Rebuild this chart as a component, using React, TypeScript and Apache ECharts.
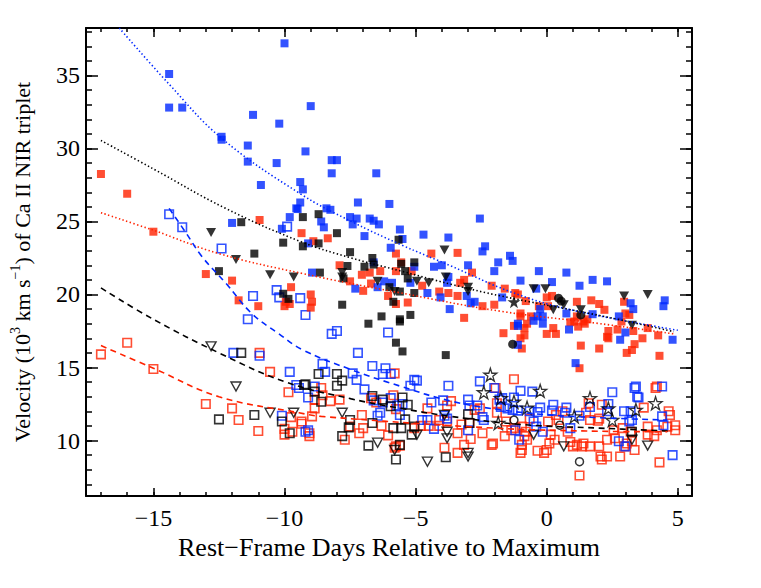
import React, { useEffect, useRef } from 'react';
import * as echarts from 'echarts';

// ---------- data (x = rest-frame days, y = velocity in 10^3 km/s) ----------
const blueFilled = [[-10.0,37.2],[-14.4,35.1],[-14.4,32.8],[-13.9,32.8],[-11.2,32.3],[-10.2,31.7],[-9.0,32.9],[-12.4,30.8],[-12.4,30.6],[-11.4,30.2],[-11.4,29.1],[-10.3,29.0],[-10.9,27.5],[-9.4,27.7],[-9.3,27.2],[-9.4,26.3],[-9.2,29.8],[-9.55,25.9],[-8.2,29.2],[-8.0,29.2],[-8.2,28.3],[-6.5,28.3],[-7.2,26.3],[-6.0,26.2],[-8.4,25.9],[-8.25,25.8],[-8.6,25.0],[-8.5,24.6],[-7.5,25.3],[-7.25,25.2],[-7.4,24.8],[-6.75,25.2],[-6.6,25.05],[-6.4,24.8],[-6.95,24.0],[-5.6,24.45],[-5.5,23.8],[-4.7,24.1],[-3.75,23.9],[-2.55,25.2],[-5.95,23.2],[-2.35,23.3],[-2.45,22.95],[-1.85,22.2],[-2.0,21.6],[-3.0,22.0],[-4.3,21.9],[-4.0,22.0],[-5.05,21.9],[-6.6,22.2],[-8.95,21.5],[-9.1,23.5],[-6.2,20.9],[-5.9,20.8],[-7.3,20.4],[-5.2,20.8],[-4.55,20.1],[-3.8,20.8],[-3.75,21.2],[-4.05,19.8],[-3.05,19.9],[-3.7,19.0],[-2.75,19.5],[-2.9,19.4],[-6.45,20.5],[-1.4,22.65],[-1.3,22.3],[-0.3,21.6],[0.75,21.5],[-1.0,20.95],[0.2,20.85],[1.75,21.0],[2.3,20.9],[1.25,20.6],[-0.4,20.4],[-1.7,19.8],[-0.25,19.0],[-0.35,18.5],[-0.15,18.5],[-0.15,18.0],[-0.5,18.2],[-1.1,18.0],[-1.1,17.85],[0.75,18.7],[0.85,17.6],[1.75,18.65],[2.75,18.5],[3.2,19.4],[3.3,19.0],[4.5,19.6],[4.45,19.2],[3.0,17.4],[2.8,16.9],[4.8,16.9],[-1.1,16.55],[1.1,15.3],[-12.0,24.9],[-9.8,25.3],[-9.5,25.85],[-10.1,24.5]];

const redFilled = [[-17.0,28.25],[-16.0,26.9],[-15.0,24.3],[-10.95,25.1],[-13.0,21.4],[-12.0,20.95],[-11.75,19.6],[-11.0,19.2],[-9.75,20.5],[-10.0,19.2],[-9.8,19.35],[-9.95,19.5],[-9.35,24.2],[-8.35,23.85],[-8.9,23.65],[-9.0,20.0],[-8.95,19.5],[-9.0,19.1],[-7.9,22.0],[-7.5,20.9],[-7.05,21.35],[-7.0,20.25],[-6.75,21.5],[-6.35,21.6],[-6.7,20.75],[-5.75,22.8],[-5.55,22.2],[-5.75,21.6],[-5.15,21.6],[-6.05,19.9],[-5.75,19.35],[-5.3,19.45],[-4.4,22.8],[-3.4,22.85],[-4.75,20.6],[-4.1,20.2],[-3.75,20.1],[-3.4,19.9],[-3.3,20.8],[-3.15,21.0],[-2.85,21.5],[-2.1,20.6],[-2.45,19.2],[-2.0,19.3],[-3.15,18.4],[-1.6,20.4],[-1.2,20.1],[-1.1,20.0],[-0.8,19.55],[-1.0,18.7],[-1.0,18.5],[-0.6,18.5],[-0.75,18.0],[-0.85,17.7],[-1.25,17.85],[-1.65,17.35],[-0.85,17.2],[-1.0,17.0],[-0.95,16.3],[0.0,19.8],[0.2,19.9],[0.05,19.2],[-0.3,19.2],[0.25,17.7],[0.0,17.3],[0.35,17.3],[1.15,19.5],[1.15,18.5],[1.05,18.15],[0.9,18.1],[1.2,17.8],[1.3,16.5],[1.7,19.6],[2.0,19.35],[2.2,18.95],[1.4,18.15],[1.55,18.3],[1.45,18.0],[2.3,17.1],[2.35,17.0],[2.35,17.5],[2.0,16.3],[2.95,19.5],[3.0,18.7],[3.15,18.6],[2.85,18.15],[2.7,17.6],[3.3,17.5],[3.35,16.6],[3.25,16.2],[3.05,16.0],[3.85,17.7],[3.65,17.0],[4.25,17.2],[4.3,15.8],[1.25,14.95]];

const blackFilled = [[-11.65,24.95],[-10.05,23.55],[-9.3,25.3],[-9.3,23.3],[-11.15,22.8],[-12.5,21.6],[-10.05,20.05],[-9.85,19.7],[-8.7,25.5],[-8.0,24.2],[-8.7,23.5],[-7.5,22.9],[-5.65,23.75],[-7.6,21.95],[-6.95,21.9],[-8.65,21.5],[-7.75,21.1],[-6.65,22.5],[-6.6,22.05],[-5.55,22.1],[-5.4,21.6],[-5.05,22.2],[-5.3,21.1],[-6.0,20.5],[-5.6,20.2],[-5.85,19.5],[-5.05,20.1],[-7.8,19.3],[-6.3,18.5],[-5.6,18.3],[-5.2,18.6],[-6.8,18.0],[-5.6,18.15],[-5.75,16.7],[-5.5,16.1],[-3.85,15.85]];

const blackTriFilled = [[-12.8,24.25],[-11.85,22.4],[-10.55,21.35],[-9.65,21.2],[-7.8,21.5],[-7.8,21.2],[-6.45,20.9],[-4.95,20.9],[-4.5,20.8],[-3.9,23.05],[-3.85,21.2],[-3.0,20.5],[-3.0,20.2],[-5.8,20.2],[-0.5,20.4],[-0.05,20.4],[0.25,18.95],[0.65,19.3],[1.3,18.95],[2.95,19.9],[3.85,20.0],[3.25,17.9]];

const blackCircleFilled = [[0.45,19.75],[0.55,19.55],[1.3,18.6],[-1.3,16.6]];
const blackStarFilled = [[-1.25,19.5]];

const blueOpen = [[-14.4,25.5],[-13.9,24.6],[-12.4,23.15],[-9.9,24.65],[-10.3,20.3],[-10.2,19.8],[-9.4,19.75],[-11.2,19.9],[-11.4,18.3],[-9.2,18.6],[-11.95,16.0],[-10.95,15.8],[-9.8,14.7],[-9.55,13.8],[-9.45,13.6],[-10.1,11.7],[-9.2,10.6],[-8.2,17.3],[-8.0,17.5],[-6.05,17.4],[-7.2,16.0],[-8.55,15.25],[-8.45,14.7],[-6.65,15.1],[-6.15,14.95],[-5.95,14.55],[-6.25,14.55],[-7.4,14.6],[-7.25,14.15],[-6.95,13.5],[-5.05,14.15],[-4.95,14.1],[-5.2,13.75],[-3.75,13.75],[-2.55,14.05],[-9.1,12.95],[-8.85,13.7],[-6.6,12.75],[-6.25,12.6],[-5.95,12.9],[-5.7,12.4],[-5.5,12.5],[-6.35,11.9],[-6.45,11.7],[-5.6,11.75],[-4.4,12.6],[-3.95,12.75],[-4.75,11.4],[-4.55,11.4],[-4.3,10.8],[-3.9,11.7],[-3.8,11.5],[-3.0,12.8],[-2.95,12.4],[-2.65,12.4],[-2.45,11.6],[-2.4,11.4],[-3.0,10.7],[-2.0,13.6],[-1.8,12.8],[-1.75,12.3],[-9.1,10.7],[-1.0,13.4],[-0.55,13.35],[-1.25,12.95],[-1.7,12.9],[-1.5,12.2],[-1.3,12.1],[-1.1,12.05],[-0.65,12.0],[-0.25,12.25],[-0.35,11.95],[-0.5,11.3],[-0.4,10.95],[-1.2,10.7],[-1.05,10.05],[-0.15,10.6],[0.25,12.45],[0.2,12.05],[0.75,12.25],[0.7,11.9],[1.25,11.7],[0.9,10.85],[1.65,12.3],[2.5,13.3],[2.35,12.5],[2.3,12.0],[2.95,12.0],[3.2,12.0],[3.15,11.3],[3.25,11.4],[3.35,13.6],[3.4,13.7],[3.45,13.0],[3.5,12.95],[2.75,9.95],[3.0,9.6],[4.4,13.7],[4.45,11.05],[4.4,11.65],[4.8,9.0]];

const redOpen = [[-17.0,15.9],[-16.0,16.7],[-15.0,14.9],[-13.0,12.5],[-12.0,12.2],[-11.75,11.4],[-11.0,10.65],[-10.95,16.0],[-10.55,14.7],[-9.85,13.3],[-9.75,11.6],[-9.35,11.15],[-10.0,10.8],[-10.0,10.4],[-9.7,10.6],[-5.8,14.6],[-8.85,12.8],[-8.85,12.2],[-8.95,11.65],[-8.6,13.6],[-8.55,13.1],[-8.25,12.7],[-7.9,12.8],[-9.35,11.3],[-9.05,10.3],[-9.05,10.5],[-7.5,10.95],[-7.0,10.85],[-7.15,10.5],[-7.05,11.75],[-7.7,10.05],[-6.7,12.9],[-6.5,12.6],[-5.85,13.1],[-6.3,11.0],[-6.05,10.35],[-5.75,12.15],[-5.75,9.6],[-5.6,9.65],[-5.8,9.5],[-5.05,10.85],[-4.5,11.0],[-4.8,11.0],[-4.55,12.2],[-4.1,11.4],[-4.1,11.0],[-3.8,11.3],[-3.65,12.7],[-3.8,12.4],[-3.9,9.5],[-3.4,9.15],[-3.15,9.7],[-3.4,10.5],[-3.25,11.1],[-2.95,11.2],[-2.75,12.1],[-2.55,12.2],[-2.9,10.1],[-2.45,10.5],[-2.05,9.8],[-2.1,9.7],[-1.9,12.55],[-1.9,11.9],[-1.25,14.2],[-1.55,11.3],[-1.6,10.3],[-1.35,10.7],[-1.2,10.85],[-0.95,10.95],[-0.85,10.3],[-0.95,9.7],[-0.95,9.35],[-1.0,9.15],[-0.75,10.05],[-0.8,10.6],[-0.65,11.5],[-0.35,9.3],[0.05,11.3],[0.15,10.4],[0.3,10.05],[0.1,9.8],[0.0,9.35],[-0.1,9.15],[0.35,11.75],[0.45,11.4],[0.6,12.0],[0.8,10.6],[0.9,9.9],[1.15,9.7],[1.0,9.6],[1.4,9.8],[1.35,9.6],[1.25,7.6],[1.6,12.55],[1.5,11.9],[1.65,11.4],[1.95,11.35],[1.65,9.6],[2.0,9.6],[2.05,8.9],[2.1,8.7],[2.3,8.9],[2.3,10.05],[2.6,10.15],[2.8,8.9],[2.95,9.6],[3.05,9.8],[3.25,9.95],[3.35,9.35],[2.55,10.7],[2.9,10.85],[3.2,10.6],[3.7,12.25],[3.85,10.95],[4.2,10.7],[3.85,10.4],[4.1,10.3],[4.6,10.95],[4.65,12.0],[4.7,11.75],[4.9,11.05],[4.9,10.7],[4.2,13.7],[4.15,13.6],[4.3,8.5],[2.0,11.5],[2.1,12.45],[-1.95,13.6]];

const blackOpenSq = [[-12.5,11.45],[-11.15,11.75],[-11.65,16.0],[-10.1,11.3],[-9.8,10.5],[-9.25,13.8],[-8.7,14.55],[-8.0,14.55],[-7.8,14.1],[-8.0,13.75],[-9.2,13.85],[-8.85,13.35],[-8.6,12.65],[-6.65,13.05],[-6.25,12.8],[-5.95,12.35],[-5.5,12.95],[-5.3,12.45],[-7.5,11.4],[-7.55,10.9],[-7.8,10.3],[-6.65,11.2],[-5.85,10.85],[-5.4,11.45],[-5.55,10.85],[-5.05,10.95],[-5.15,10.4],[-6.8,9.65],[-5.6,9.7],[-5.75,8.7],[-3.85,8.85],[-3.0,11.8],[-2.95,11.2],[3.25,10.6]];

const blackOpenTri = [[-12.8,16.45],[-11.85,13.7],[-10.55,11.9],[-9.65,11.9],[-7.8,11.9],[-6.45,9.85],[-5.8,9.35],[-4.95,10.4],[-4.55,8.55],[-3.8,10.6],[-3.8,10.15],[-3.0,9.15],[-3.0,8.9],[-3.9,11.75],[-0.5,10.4],[0.65,9.6],[3.85,9.65],[3.25,10.05]];

const blackOpenStar = [[-2.15,14.5],[-2.4,13.3],[-1.85,11.2],[-0.25,13.4],[-1.25,12.65],[-0.75,12.25],[1.65,12.9],[2.35,12.2],[3.4,12.1],[4.15,12.55],[2.5,11.4],[1.05,11.65],[-1.75,12.9]];

const blackOpenCircle = [[-1.25,11.4],[0.5,11.05],[1.25,8.55]];

// fitted curves
const blueDotted = [[-16.3,38.25],[-14.4,34.4],[-12.4,30.7],[-9.4,26.9],[-7.45,25.0],[-5.55,23.4],[-3.65,21.95],[-1.4,20.2],[0.8,19.0],[5.0,17.55]];
const blackDotted = [[-17.0,30.55],[-15.0,28.6],[-12.25,25.9],[-9.35,23.6],[-7.45,22.5],[-5.55,21.6],[-3.65,20.7],[-1.75,19.9],[2.05,18.55],[4.85,17.45]];
const redDotted = [[-17.0,25.6],[-15.0,24.4],[-12.5,22.8],[-9.35,21.45],[-5.55,20.1],[-1.75,18.85],[2.05,18.0],[4.85,17.3]];
const blueDashed = [[-14.4,25.9],[-13.75,24.2],[-13.15,22.6],[-12.25,20.8],[-11.25,18.7],[-10.25,17.35],[-9.3,16.2],[-7.45,14.85],[-5.55,13.7],[-3.65,12.7],[-1.75,12.1],[0.5,11.7],[4.6,11.4]];
const blackDashed = [[-17.0,20.45],[-15.0,18.3],[-12.5,16.0],[-9.95,14.0],[-7.45,12.85],[-5.55,12.2],[-3.65,11.65],[-1.0,11.1],[2.0,10.85],[4.7,10.65]];
const redDashed = [[-17.0,16.5],[-15.0,14.95],[-12.5,13.0],[-9.45,11.9],[-8.6,11.65],[-2.0,10.85],[1.5,10.65],[4.6,10.6]];

const xMajorTicks = [-15, -10, -5, 0, 5];
const yMajorTicks = [10, 15, 20, 25, 30, 35];
const xMinorTicks = [-17,-16,-15,-14,-13,-12,-11,-10,-9,-8,-7,-6,-5,-4,-3,-2,-1,0,1,2,3,4,5];
const yMinorTicks = [7,8,9,10,11,12,13,14,15,16,17,18,19,20,21,22,23,24,25,26,27,28,29,30,31,32,33,34,35,36,37,38];

const X_MIN = -17.57, X_MAX = 5.54, Y_MIN = 6.2, Y_MAX = 38.25;
const BLUE = '#0028ff';
const RED = '#ff2200';
const BLACK = '#000000';
const FONT = "'Liberation Serif', 'DejaVu Serif', serif";
const STAR = 'path://M50,2 L61.2,36.2 L97.6,36.2 L68.2,57.6 L79.4,92 L50,70.8 L20.6,92 L31.8,57.6 L2.4,36.2 L38.8,36.2 Z';

const minus = (v: number) => (v < 0 ? '\u2212' + Math.abs(v) : String(v));

export default function App() {
  const ref = useRef<HTMLDivElement>(null);
  useEffect(() => {
    const chart = echarts.init(ref.current!, null, { renderer: 'svg' });
    const tickStyle = { color: BLACK, width: 1.5 };
    const mkAxis = (pos: string, min: number, max: number, vals: number[], len: number, showLine: boolean, extra: any = {}) => ({
      type: 'value', position: pos, min, max,
      axisLine: { show: showLine, onZero: false, lineStyle: { color: BLACK, width: 2 } },
      axisTick: { show: true, inside: true, length: len, lineStyle: tickStyle, customValues: vals },
      axisLabel: { show: false },
      splitLine: { show: false },
      ...extra,
    });
    const scatter = (name: string, data: number[][], opts: any) => ({
      name, type: 'scatter', data, silent: true, ...opts,
    });
    const openStyle = (c: string, w = 1.6) => ({ color: 'rgba(0,0,0,0)', borderColor: c, borderWidth: w });
    const curve = (data: number[][], color: string, dotted: boolean) => ({
      type: 'line', data, smooth: 0.4, showSymbol: false, silent: true, z: 5,
      lineStyle: dotted
        ? { color, width: 1.6, type: [1.4, 2.4] }
        : { color, width: 1.6, type: [6, 4.5] },
    });

    const option: any = {
      animation: false,
      backgroundColor: '#ffffff',
      grid: { left: 84, right: 69, top: 28, bottom: 92, containLabel: false },
      xAxis: [
        mkAxis('bottom', X_MIN, X_MAX, xMajorTicks, 8, true, {
          axisLabel: {
            show: true, customValues: xMajorTicks, formatter: minus,
            fontFamily: FONT, fontSize: 24, color: BLACK, margin: 10,
          },
          name: 'Rest\u2212Frame Days Relative to Maximum',
          nameLocation: 'middle', nameGap: 38,
          nameTextStyle: { fontFamily: FONT, fontSize: 26, color: BLACK },
        }),
        mkAxis('bottom', X_MIN, X_MAX, xMinorTicks, 4, false),
        mkAxis('top', X_MIN, X_MAX, xMajorTicks, 9, true),
        mkAxis('top', X_MIN, X_MAX, xMinorTicks, 4, false),
      ],
      yAxis: [
        mkAxis('left', Y_MIN, Y_MAX, yMajorTicks, 12, true, {
          axisLabel: {
            show: true, customValues: yMajorTicks, formatter: minus,
            fontFamily: FONT, fontSize: 24, color: BLACK, margin: 6,
          },
          name: 'Velocity (10{sup|3} km s{sup|\u22121}) of Ca II NIR triplet',
          nameLocation: 'middle', nameGap: 50,
          nameTextStyle: {
            fontFamily: FONT, fontSize: 22, color: BLACK, lineHeight: 28,
            rich: { sup: { fontFamily: FONT, fontSize: 14, color: BLACK, lineHeight: 15, verticalAlign: 'top' } },
          },
        }),
        mkAxis('left', Y_MIN, Y_MAX, yMinorTicks, 6, false),
        mkAxis('right', Y_MIN, Y_MAX, yMajorTicks, 12, true),
        mkAxis('right', Y_MIN, Y_MAX, yMinorTicks, 6, false),
      ],
      series: [
        scatter('redOpen', redOpen, { symbol: 'rect', symbolSize: 8.5, itemStyle: openStyle(RED) }),
        scatter('blueOpen', blueOpen, { symbol: 'rect', symbolSize: 8.5, itemStyle: openStyle(BLUE) }),
        scatter('blackOpenSq', blackOpenSq, { symbol: 'rect', symbolSize: 8.5, itemStyle: openStyle(BLACK) }),
        scatter('blackOpenTri', blackOpenTri, { symbol: 'triangle', symbolRotate: 180, symbolSize: [10, 9], itemStyle: openStyle(BLACK, 1.4) }),
        scatter('blackOpenCircle', blackOpenCircle, { symbol: 'circle', symbolSize: 8, itemStyle: openStyle(BLACK, 1.5) }),
        scatter('blackOpenStar', blackOpenStar, { symbol: STAR, symbolSize: 13, itemStyle: openStyle(BLACK, 1.3) }),
        scatter('redFilled', redFilled, { symbol: 'rect', symbolSize: 8, itemStyle: { color: RED } }),
        scatter('blueFilled', blueFilled, { symbol: 'rect', symbolSize: 8, itemStyle: { color: BLUE } }),
        scatter('blackFilled', blackFilled, { symbol: 'rect', symbolSize: 8, itemStyle: { color: BLACK } }),
        scatter('blackTriFilled', blackTriFilled, { symbol: 'triangle', symbolRotate: 180, symbolSize: [10, 9], itemStyle: { color: BLACK } }),
        scatter('blackCircleFilled', blackCircleFilled, { symbol: 'circle', symbolSize: 9, itemStyle: { color: BLACK } }),
        scatter('blackStarFilled', blackStarFilled, { symbol: STAR, symbolSize: 13, itemStyle: { color: BLACK } }),
        curve(blueDotted, BLUE, true),
        curve(blackDotted, BLACK, true),
        curve(redDotted, RED, true),
        curve(blueDashed, BLUE, false),
        curve(blackDashed, BLACK, false),
        curve(redDashed, RED, false),
      ],
    };
    chart.setOption(option);
    return () => chart.dispose();
  }, []);
  return <div ref={ref} style={{ position: 'absolute', left: 0, top: 0, width: 761, height: 588 }} />;
}
